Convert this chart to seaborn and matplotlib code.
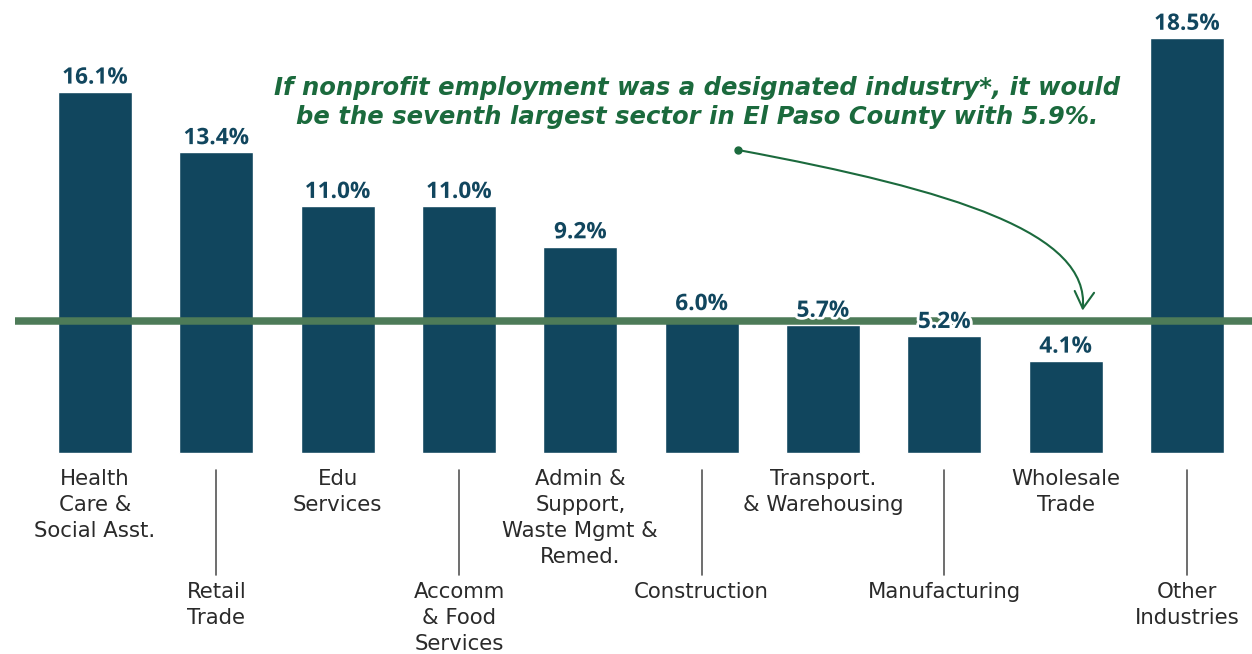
import matplotlib
matplotlib.use("Agg")
import matplotlib.pyplot as plt
import matplotlib.patheffects as pe
from matplotlib.path import Path
from matplotlib.patches import FancyArrowPatch
import seaborn as sns
import pandas as pd

# Share of county employment by industry (%)
industries = [
    "Health\nCare &\nSocial Asst.",
    "Retail\nTrade",
    "Edu\nServices",
    "Accomm\n& Food\nServices",
    "Admin &\nSupport,\nWaste Mgmt &\nRemed.",
    "Construction",
    "Transport.\n& Warehousing",
    "Manufacturing",
    "Wholesale\nTrade",
    "Other\nIndustries",
]
share = [16.1, 13.4, 11.0, 11.0, 9.2, 6.0, 5.7, 5.2, 4.1, 18.5]
nonprofit_share = 5.9
note = ("If nonprofit employment was a designated industry*, it would\n"
        "be the seventh largest sector in El Paso County with 5.9%.")

BAR = "#11465e"
LINE_GREEN = "#4d7b58"
TEXT_GREEN = "#1b6a3d"
LABEL = "#2a2a2a"

sns.set_theme(style="white")
plt.rcParams["font.family"] = ["DejaVu Sans"]

df = pd.DataFrame({"industry": industries, "share": share})

fig = plt.figure(figsize=(12.52, 6.54), dpi=100)
ax = fig.add_axes([0, 0, 1, 1])
sns.barplot(data=df, x="industry", y="share", color=BAR, saturation=1,
            width=0.61, ax=ax, zorder=2)
ax.set_xlim(-0.783, 9.536)
ax.set_ylim(-8.97, 20.2)
ax.set_axis_off()

# Nonprofit reference level
ax.hlines(nonprofit_share, -0.66, 9.6, color=LINE_GREEN, lw=5.4, zorder=3)

# Value labels above each bar
for i, v in enumerate(share):
    ax.annotate(f"{v:.1f}%", (i, v), xytext=(0, 6), textcoords="offset points",
                ha="center", va="baseline", fontsize=16.3, fontweight="bold",
                family="Open Sans", color=BAR, zorder=5,
                path_effects=[pe.withStroke(linewidth=4, foreground="white")])

# Category labels, staggered with leader lines for every second bar
xt = ax.get_xaxis_transform()
fig_h = 654.0
for i, name in enumerate(industries):
    if i % 2 == 0:
        ax.text(i, 1 - 469 / fig_h, name, transform=xt, ha="center", va="top",
                fontsize=15.3, color=LABEL, linespacing=1.38)
    else:
        ax.plot([i, i], [1 - 470 / fig_h, 1 - 575 / fig_h], transform=xt,
                color="#555555", lw=1.2, clip_on=False)
        ax.text(i, 1 - 582 / fig_h, name, transform=xt, ha="center", va="top",
                fontsize=15.3, color=LABEL, linespacing=1.38)

# Callout text
ax.text(4.96, 1 - 102.5 / fig_h, note, transform=xt, ha="center", va="center",
        fontsize=17.5, fontweight="bold", style="italic", color=TEXT_GREEN,
        linespacing=1.3)

# Curved pointer from the callout to the reference line
start = (5.30, 13.51)
end = (8.14, 6.35)
curve = Path([start, (7.1, 11.7), (8.2, 9.8), end],
             [Path.MOVETO, Path.CURVE4, Path.CURVE4, Path.CURVE4])
arrow = FancyArrowPatch(path=curve, arrowstyle="->,head_length=0.6,head_width=0.35",
                        mutation_scale=20, color=TEXT_GREEN, lw=1.5, zorder=6,
                        transform=ax.transData)
ax.add_patch(arrow)
ax.plot(*start, marker="o", ms=5, color=TEXT_GREEN, zorder=6)

fig.savefig("out.png", dpi=100)
